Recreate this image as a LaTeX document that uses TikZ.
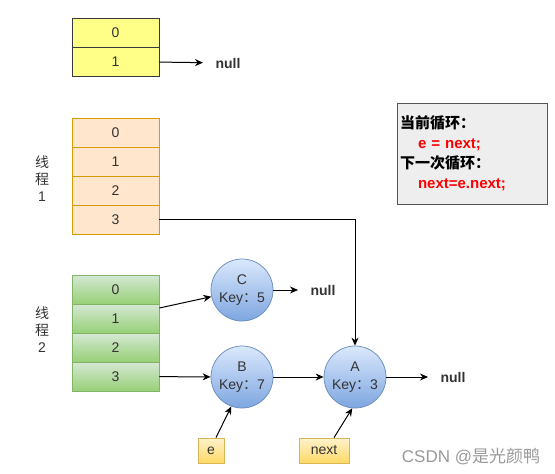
\documentclass[tikz,border=0pt]{standalone}
\usepackage{fontspec}
\setmainfont{Liberation Sans}
\newfontfamily\cjk{Noto Sans CJK SC}
\usetikzlibrary{arrows.meta}

\definecolor{txtgray}{HTML}{333333}
\definecolor{oldfill}{HTML}{FFFF88}
\definecolor{oldline}{HTML}{36393D}
\definecolor{onefill}{HTML}{FFE6CC}
\definecolor{oneline}{HTML}{D79B00}
\definecolor{twotop}{HTML}{D5E8D4}
\definecolor{twobot}{HTML}{97D077}
\definecolor{twoline}{HTML}{82B366}
\definecolor{keytop}{HTML}{DAE8FC}
\definecolor{keybot}{HTML}{7EA6E0}
\definecolor{keyline}{HTML}{6C8EBF}
\definecolor{ptrtop}{HTML}{FFF2CC}
\definecolor{ptrbot}{HTML}{FFD966}
\definecolor{ptrline}{HTML}{D6B656}
\definecolor{notefill}{HTML}{EEEEEE}
\definecolor{noteline}{HTML}{555555}

\tikzset{
    cell/.style = {draw, line width=.75pt, minimum width=87pt, minimum height=29pt,
        inner sep=0pt, text=txtgray, font=\fontsize{14}{16}\selectfont},
    oldcell/.style = {cell, fill=oldfill, draw=oldline},
    onecell/.style = {cell, fill=onefill, draw=oneline},
    twocell/.style = {cell, top color=twotop, bottom color=twobot, draw=twoline},
    entry/.style = {circle, draw=keyline, line width=.75pt, top color=keytop,
        bottom color=keybot, minimum size=62pt, inner sep=0pt, align=center,
        text=txtgray, font=\fontsize{14}{18}\selectfont},
    ptr/.style = {draw=ptrline, line width=.75pt, top color=ptrtop, bottom color=ptrbot,
        minimum height=25pt, inner sep=0pt, text=txtgray, font=\fontsize{14}{16}\selectfont},
    nulltxt/.style = {anchor=west, inner xsep=12pt, inner ysep=2pt, text=txtgray,
        font=\bfseries\fontsize{14}{16}\selectfont},
    threadlbl/.style = {align=center, text=txtgray, font=\fontsize{14}{17}\selectfont},
    note/.style = {draw=noteline, fill=notefill, line width=1pt, minimum width=150pt,
        minimum height=101pt, text width=144pt, inner sep=3pt, align=left,
        font=\bfseries\fontsize{15}{20}\selectfont},
    watermark/.style = {text=black!40, font=\fontsize{17}{19}\selectfont}
}

\begin{document}
\begin{tikzpicture}[
        x = 1pt, y = -1pt,
        line width = 1pt,
        >={Stealth[length=8pt, width=7pt]}
    ]
        \useasboundingbox (0, 0) rectangle (555, 474);

        % old table
        \node[oldcell] (old0) at (115.5, 32.5) {0};
        \node[oldcell] (old1) at (115.5, 61.5) {1};
        \node[nulltxt] (nullOld) at (203, 63) {null};
        \draw[->] (old1) -- (nullOld);

        % thread 1
        \node[threadlbl] (lblOne) at (42, 179) {{\cjk 线}\\{\cjk 程}\\1};
        \node[onecell] (one0) at (115.5, 132.5) {0};
        \node[onecell] (one1) at (115.5, 161.5) {1};
        \node[onecell] (one2) at (115.5, 190.5) {2};
        \node[onecell] (one3) at (115.5, 219.5) {3};

        % thread 2
        \node[threadlbl] (lblTwo) at (42, 330) {{\cjk 线}\\{\cjk 程}\\2};
        \node[twocell] (two0) at (115.5, 289.5) {0};
        \node[twocell] (two1) at (115.5, 318.5) {1};
        \node[twocell] (two2) at (115.5, 347.5) {2};
        \node[twocell] (two3) at (115.5, 376.5) {3};

        % entries
        \node[entry] (entC) at (242, 290) {C\\Key{\cjk ：}5};
        \node[entry] (entB) at (242, 377) {B\\Key{\cjk ：}7};
        \node[entry] (entA) at (355, 377) {A\\Key{\cjk ：}3};
        \node[nulltxt] (nullC) at (298, 290) {null};
        \node[nulltxt] (nullA) at (428, 377) {null};

        \draw[->] ([yshift=10.5pt]two1.east) -- (entC);
        \draw[->] (entC) -- (nullC);
        \draw[->] (two3) -- (entB);
        \draw[->] (entB) -- (entA);
        \draw[->] (entA) -- (nullA);
        \draw[->] (one3.east) -| (entA.north);

        % pointers
        \node[ptr, minimum width=26pt] (ptrE) at (211, 450.5) {e};
        \node[ptr, minimum width=50pt] (ptrNext) at (324, 450.5) {next};
        \draw[->] ([xshift=5pt]ptrE.north) -- (entB.-110);
        \draw[->] ([xshift=10pt]ptrNext.north) -- (entA.-95);

        % note
        \node[note] (loopNote) at (472, 153.5) {%
            {\cjk\bfseries 当前循环：}\\
            \hspace*{18pt}{\color{red}e = next;}\\
            {\cjk\bfseries 下一次循环：}\\
            \hspace*{18pt}{\color{red}next=e.next;}};

        \node[watermark] (csdn) at (471, 457) {CSDN @{\cjk 是光颜鸭}};
    \end{tikzpicture}
\end{document}
